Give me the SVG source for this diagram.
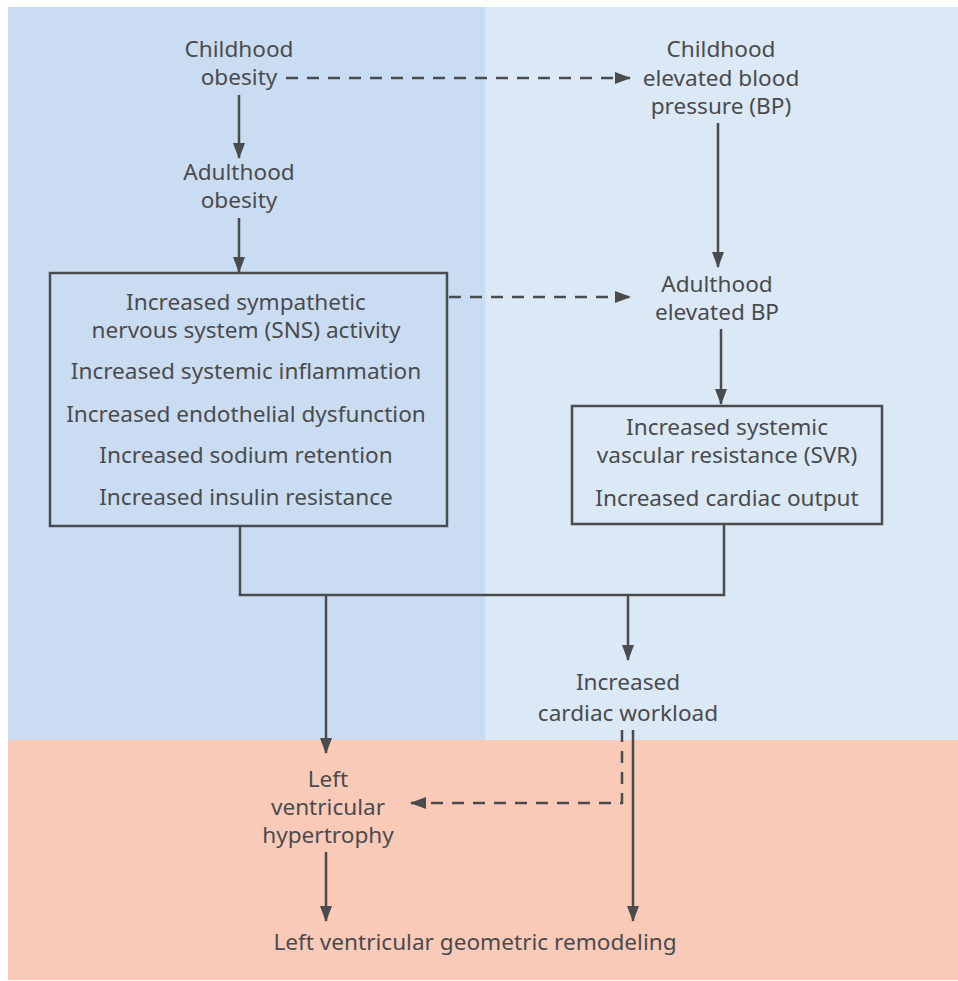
<svg xmlns="http://www.w3.org/2000/svg" width="958" height="981" viewBox="0 0 958 981">
<style>
text{font-family:"Noto Sans","Liberation Sans",sans-serif;font-size:22.6px;fill:#4a4b4d;text-anchor:middle}
.ln{fill:none;stroke:#4a4b4d;stroke-width:2.5}
.dash{stroke-dasharray:12 9}
.box{fill:none;stroke:#4a4b4d;stroke-width:2.5}
</style>
<defs>
<marker id="ah" markerWidth="16" markerHeight="12" refX="15" refY="6" orient="auto" markerUnits="userSpaceOnUse">
<path d="M0,0 L16,6 L0,12 Z" fill="#4a4b4d"/>
</marker>
</defs>
<g id="background">
<rect x="8" y="7" width="477" height="733" fill="#cadcf2"/>
<rect x="485" y="7" width="473" height="733" fill="#dbe8f6"/>
<rect x="8" y="740" width="950" height="240" fill="#f9cab8"/>
</g>
<g id="connectors">
<path class="ln dash" d="M286,78 H630" marker-end="url(#ah)"/>
<path class="ln" d="M239,95 V158" marker-end="url(#ah)"/>
<path class="ln" d="M239,218 V272" marker-end="url(#ah)"/>
<path class="ln" d="M718,123 V267" marker-end="url(#ah)"/>
<path class="ln dash" d="M449,297 H630" marker-end="url(#ah)"/>
<path class="ln" d="M721,329 V404" marker-end="url(#ah)"/>
<path class="ln" d="M240,526 V595 H724 V524"/>
<path class="ln" d="M326,595 V753" marker-end="url(#ah)"/>
<path class="ln" d="M628,595 V660" marker-end="url(#ah)"/>
<path class="ln dash" d="M622,730 V803 H411" marker-end="url(#ah)"/>
<path class="ln" d="M633,730 V921" marker-end="url(#ah)"/>
<path class="ln" d="M326,852 V921" marker-end="url(#ah)"/>
</g>
<g id="childhood-obesity">
<text x="239" y="57">Childhood</text>
<text x="239" y="85">obesity</text>
</g>
<g id="childhood-bp">
<text x="721" y="57">Childhood</text>
<text x="721" y="86">elevated blood</text>
<text x="721" y="114">pressure (BP)</text>
</g>
<g id="adulthood-obesity">
<text x="239" y="180">Adulthood</text>
<text x="239" y="208">obesity</text>
</g>
<g id="mechanisms">
<rect class="box" x="50" y="273" width="397" height="253"/>
<text x="246" y="310">Increased sympathetic</text>
<text x="246" y="338">nervous system (SNS) activity</text>
<text x="246" y="379">Increased systemic inflammation</text>
<text x="246" y="422">Increased endothelial dysfunction</text>
<text x="246" y="463">Increased sodium retention</text>
<text x="246" y="505">Increased insulin resistance</text>
</g>
<g id="adulthood-bp">
<text x="717" y="292">Adulthood</text>
<text x="717" y="320">elevated BP</text>
</g>
<g id="svr">
<rect class="box" x="572" y="406" width="310" height="118"/>
<text x="727" y="435">Increased systemic</text>
<text x="727" y="463">vascular resistance (SVR)</text>
<text x="727" y="506">Increased cardiac output</text>
</g>
<g id="workload">
<text x="628" y="690">Increased</text>
<text x="628" y="721">cardiac workload</text>
</g>
<g id="lvh">
<text x="328" y="787">Left</text>
<text x="328" y="815">ventricular</text>
<text x="328" y="843">hypertrophy</text>
</g>
<g id="remodeling">
<text x="475" y="950">Left ventricular geometric remodeling</text>
</g>
</svg>
